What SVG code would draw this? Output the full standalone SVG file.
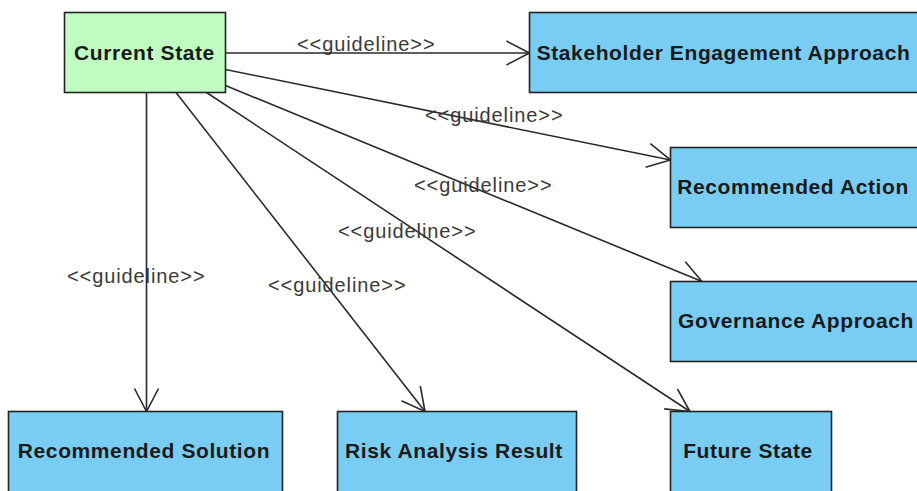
<svg xmlns="http://www.w3.org/2000/svg" width="917" height="491" viewBox="0 0 917 491">
  <style>
    .box { stroke: #222; stroke-width: 1.6; }
    .cur { fill: #c0fdc0; }
    .blk { fill: #79cdf3; }
    .name { font-family: "Liberation Sans", Arial, sans-serif; font-weight: bold; font-size: 21px; letter-spacing: 0.6px; fill: #1a1a1a; text-anchor: middle; }
    .edge { fill: none; stroke: #2a2a2a; stroke-width: 1.6; }
    .lbl { font-family: "Liberation Sans", Arial, sans-serif; font-size: 20px; letter-spacing: 0.9px; fill: #3a3a3a; }
  </style>
  <defs>
    <marker id="open" markerUnits="userSpaceOnUse" markerWidth="30" markerHeight="30" refX="0" refY="0" viewBox="-25 -15 30 30" orient="auto">
      <path d="M-23,-12 L0,0 L-23,12" fill="none" stroke="#2a2a2a" stroke-width="1.6"/>
    </marker>
  </defs>

  <g id="connectors">
    <line class="edge" x1="225.5" y1="53" x2="529.5" y2="53" marker-end="url(#open)"/>
    <line class="edge" x1="225.5" y1="69.5" x2="670.5" y2="160" marker-end="url(#open)"/>
    <line class="edge" x1="225.5" y1="85.5" x2="702" y2="281.5" marker-end="url(#open)"/>
    <line class="edge" x1="206.5" y1="92.5" x2="690" y2="411.5" marker-end="url(#open)"/>
    <line class="edge" x1="176" y1="92.5" x2="425" y2="411.5" marker-end="url(#open)"/>
    <line class="edge" x1="146.5" y1="92.5" x2="146.5" y2="411.5" marker-end="url(#open)"/>
    <text class="lbl" x="297" y="51">&lt;&lt;guideline&gt;&gt;</text>
    <text class="lbl" x="425" y="121.5">&lt;&lt;guideline&gt;&gt;</text>
    <text class="lbl" x="414" y="191.5">&lt;&lt;guideline&gt;&gt;</text>
    <text class="lbl" x="338" y="238">&lt;&lt;guideline&gt;&gt;</text>
    <text class="lbl" x="67" y="283">&lt;&lt;guideline&gt;&gt;</text>
    <text class="lbl" x="268" y="291.5">&lt;&lt;guideline&gt;&gt;</text>
  </g>

  <g id="current-state">
    <rect class="box cur" x="64.5" y="12.5" width="161" height="80"/>
    <text class="name" x="144.5" y="60">Current State</text>
  </g>
  <g id="stakeholder-engagement-approach">
    <rect class="box blk" x="529.5" y="12.5" width="392" height="80"/>
    <text class="name" x="723.5" y="60">Stakeholder Engagement Approach</text>
  </g>
  <g id="recommended-action">
    <rect class="box blk" x="670.5" y="147.5" width="252" height="80"/>
    <text class="name" x="793" y="194">Recommended Action</text>
  </g>
  <g id="governance-approach">
    <rect class="box blk" x="670.5" y="281.5" width="256" height="80"/>
    <text class="name" x="796" y="328">Governance Approach</text>
  </g>
  <g id="recommended-solution">
    <rect class="box blk" x="8.5" y="411.5" width="274" height="82"/>
    <text class="name" x="144" y="458">Recommended Solution</text>
  </g>
  <g id="risk-analysis-result">
    <rect class="box blk" x="337.5" y="411.5" width="239" height="82"/>
    <text class="name" x="454" y="458">Risk Analysis Result</text>
  </g>
  <g id="future-state">
    <rect class="box blk" x="670.5" y="411.5" width="161" height="82"/>
    <text class="name" x="748" y="458">Future State</text>
  </g>
</svg>
